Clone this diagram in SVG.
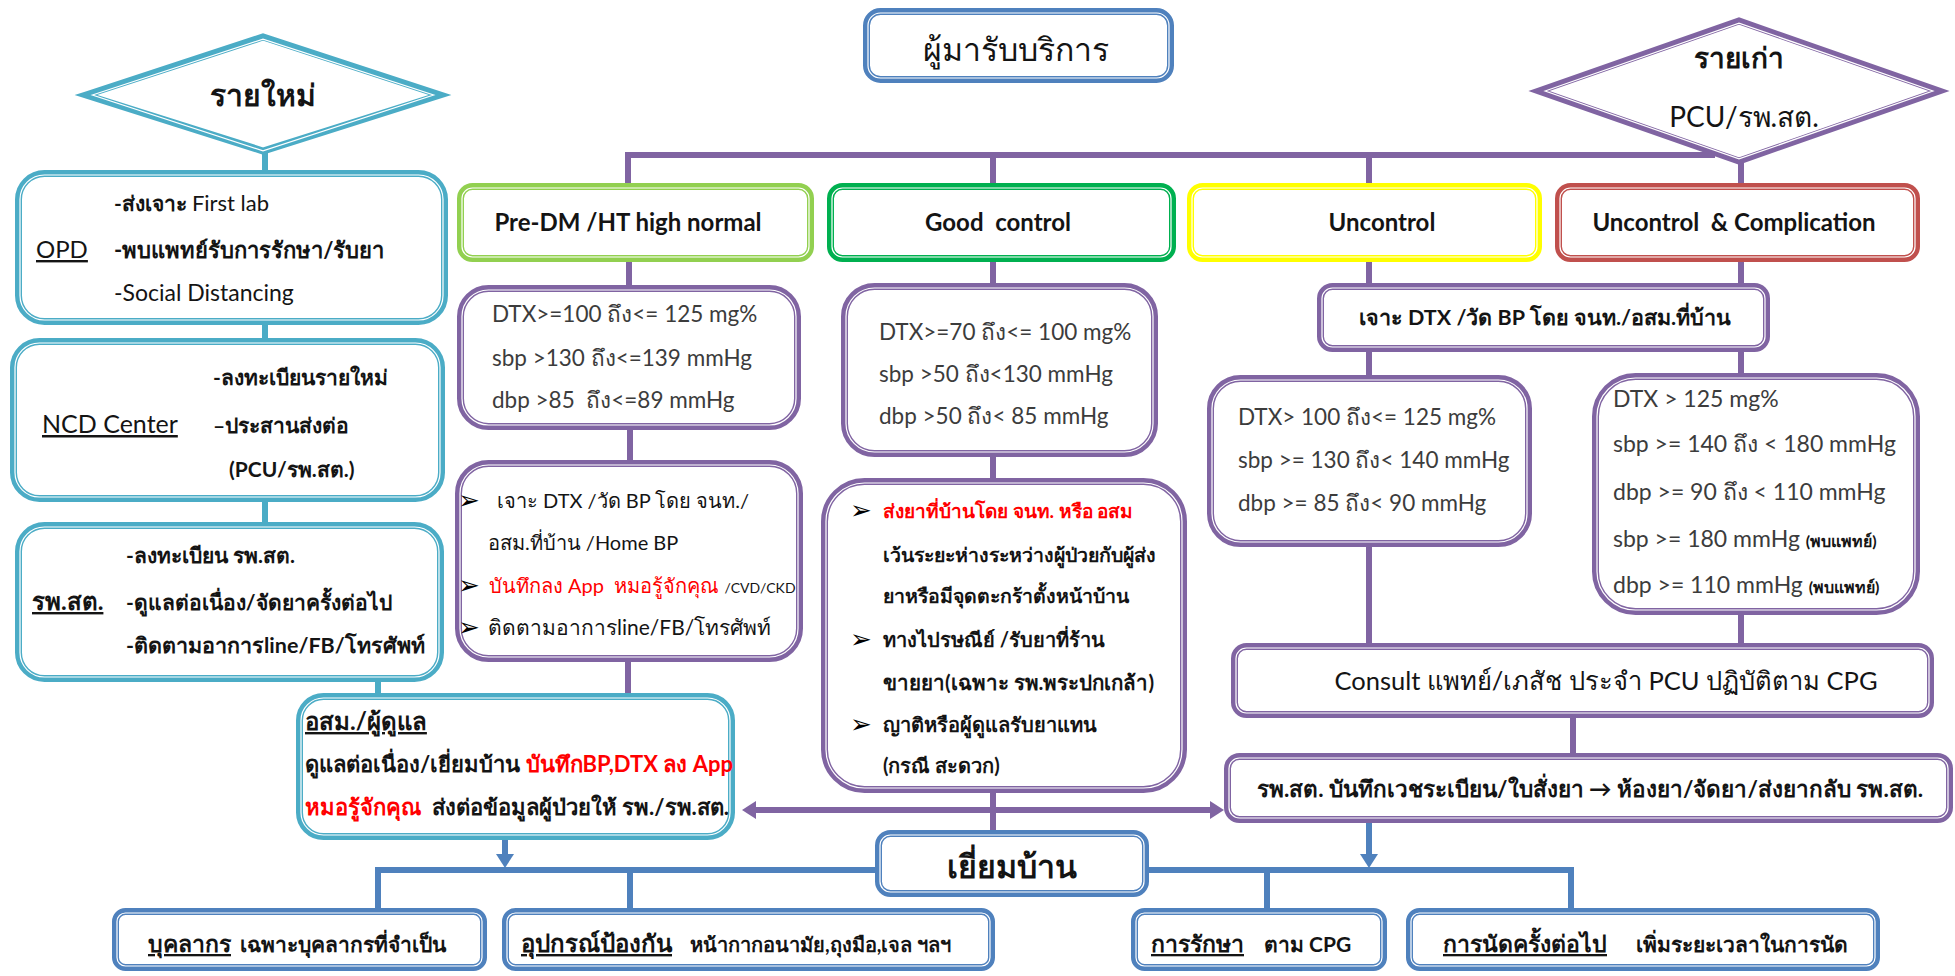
<svg xmlns="http://www.w3.org/2000/svg" width="1955" height="976" viewBox="0 0 1955 976">
<style>
.bx{fill:#fff;stroke-width:7}
.gap{fill:none;stroke:#fff;stroke-width:1.2}
.teal{stroke:#4bacc6}
.blue{stroke:#4f81bd}
.pur{stroke:#8064a2}
.lg{stroke:#92d050}
.gr{stroke:#00b050}
.yl{stroke:#ffff00}
.rd{stroke:#c0504d}
.ln{fill:none;stroke-width:6}
text{font-family:"Lato","Noto Sans","DejaVu Sans",sans-serif;fill:#141414}
.th{font-weight:bold;font-size:21px}
.tc{font-size:20px}
.hd{font-weight:bold;font-size:24px;text-anchor:middle}
.lab{font-size:22.5px;fill:#3c3c3c}
.big{font-weight:bold;font-size:32px;text-anchor:middle}
.red{fill:#ff0000}
.u{text-decoration:underline}
.c{text-anchor:middle}
.ul{font-weight:bold;font-size:23px;text-decoration:underline}
.rest{font-weight:bold;font-size:21px}
.bul{font-family:"DejaVu Sans",sans-serif;font-size:26px;fill:#000}
</style>
<defs>
<marker id="ahP" viewBox="0 0 10 10" refX="5.7" refY="5" markerWidth="14" markerHeight="18" markerUnits="userSpaceOnUse" preserveAspectRatio="none" orient="auto-start-reverse"><path d="M0,0 L10,5 L0,10 z" fill="#8064a2"/></marker>
<marker id="ahB" viewBox="0 0 10 10" refX="5.7" refY="5" markerWidth="14" markerHeight="18" markerUnits="userSpaceOnUse" preserveAspectRatio="none" orient="auto"><path d="M0,0 L10,5 L0,10 z" fill="#4f81bd"/></marker>
</defs>

<g id="connectors">
  <!-- new-patient chain -->
  <path class="ln teal" d="M265,150 V172 M265,323 V340 M265,500 V524 M378,680 V695"/>
  <!-- service bus -->
  <path class="ln pur" d="M625,155 H1715 M628,155 V185 M993,155 V185 M1369,155 V185 M1741,158 V185"/>
  <path class="ln pur" d="M629,260 V287 M630,428 V462 M628,660 V695"/>
  <path class="ln pur" d="M993,260 V285 M993,455 V480 M993,791 V832"/>
  <path class="ln pur" d="M1369,260 V285 M1369,350 V377 M1369,545 V645"/>
  <path class="ln pur" d="M1741,260 V285 M1741,350 V375 M1741,613 V645 M1573,716 V755"/>
  <path class="ln pur" d="M748,810 H1218" marker-start="url(#ahP)" marker-end="url(#ahP)"/>
  <!-- home-visit bus -->
  <path class="ln blue" d="M378,910 V870 H1571 V910 M630,870 V910 M1267,870 V910"/>
  <path class="ln blue" d="M505,838 V862" marker-end="url(#ahB)"/>
  <path class="ln blue" d="M1369,821 V862" marker-end="url(#ahB)"/>
</g>

<g id="node-top">
  <rect class="bx blue" x="866.5" y="11.5" width="304" height="68" rx="14"/>
  <rect class="gap" x="868" y="13" width="301" height="65" rx="12.5"/>
  <text class="big" x="1016" y="61" style="font-weight:normal;font-size:32px">ผู้มารับบริการ</text>
</g>

<g id="node-new">
  <polygon class="bx teal" points="86,95 263,37 440,95 263,151"/>
  <polygon class="gap" points="92.4,95 263,39.1 433.6,95 263,150.9"/>
  <text class="big" x="263" y="106" style="font-size:30px">รายใหม่</text>
</g>

<g id="node-old">
  <polygon class="bx pur" points="1539,91 1739,21 1939,91 1739,161"/>
  <polygon class="gap" points="1545.1,91 1739,23.1 1932.9,91 1739,158.9"/>
  <text class="big" x="1739" y="68" style="font-size:28px">รายเก่า</text>
  <text class="c" x="1744" y="127" style="font-size:28px">PCU/รพ.สต.</text>
</g>

<g id="node-opd">
  <rect class="bx teal" x="18.5" y="173.5" width="426" height="148" rx="26"/>
  <rect class="gap" x="20" y="175" width="423" height="145" rx="24.5"/>
  <text class="th" x="114" y="211">-ส่งเจาะ <tspan font-weight="normal" font-size="22">First lab</tspan></text>
  <text class="u" x="36" y="258" style="font-size:24px">OPD</text>
  <text class="th" x="114" y="258" style="font-size:22px">-พบแพทย์รับการรักษา/รับยา</text>
  <text x="114" y="301" style="font-size:23px">-Social Distancing</text>
</g>

<g id="node-ncd">
  <rect class="bx teal" x="13.5" y="341.5" width="428" height="157" rx="26"/>
  <rect class="gap" x="15" y="343" width="425" height="154" rx="24.5"/>
  <text class="th" x="213" y="385">-ลงทะเบียนรายใหม่</text>
  <text class="u" x="42" y="433" style="font-size:25px">NCD Center</text>
  <text class="th" x="213" y="433">–ประสานส่งต่อ</text>
  <text class="th" x="229" y="477">(PCU/รพ.สต.)</text>
</g>

<g id="node-pcu-left">
  <rect class="bx teal" x="18.5" y="525.5" width="422" height="153" rx="26"/>
  <rect class="gap" x="20" y="527" width="419" height="150" rx="24.5"/>
  <text class="th" x="126" y="563">-ลงทะเบียน รพ.สต.</text>
  <text class="th u" x="32" y="610" style="font-size:24px">รพ.สต.</text>
  <text class="th" x="126" y="610">-ดูแลต่อเนื่อง/จัดยาครั้งต่อไป</text>
  <text class="th" x="126" y="653" style="font-size:21.5px">-ติดตามอาการline/FB/โทรศัพท์</text>
</g>

<g id="node-vhv">
  <rect class="bx teal" x="299.5" y="696.5" width="432" height="140" rx="24"/>
  <rect class="gap" x="301" y="698" width="429" height="137" rx="22.5"/>
  <text class="th u" x="305" y="730" style="font-size:24px">อสม./ผู้ดูแล</text>
  <text class="th" x="305" y="772" style="font-size:22px">ดูแลต่อเนื่อง/เยี่ยมบ้าน <tspan class="red">บันทึกBP,DTX ลง App</tspan></text>
  <text class="th" x="305" y="815" style="font-size:22px" xml:space="preserve"><tspan class="red">หมอรู้จักคุณ</tspan>  ส่งต่อข้อมูลผู้ป่วยให้ รพ./รพ.สต.</text>
</g>

<g id="node-predm">
  <rect class="bx lg" x="460.5" y="186.5" width="350" height="72" rx="12"/>
  <rect class="gap" x="462" y="188" width="347" height="69" rx="10.5"/>
  <text class="hd" x="628" y="231">Pre-DM /HT high normal</text>
</g>

<g id="node-good">
  <rect class="bx gr" x="830.5" y="186.5" width="342" height="72" rx="12"/>
  <rect class="gap" x="832" y="188" width="339" height="69" rx="10.5"/>
  <text class="hd" x="998" y="231" xml:space="preserve">Good  control</text>
</g>

<g id="node-uncontrol">
  <rect class="bx yl" x="1190.5" y="186.5" width="348" height="72" rx="12"/>
  <rect class="gap" x="1192" y="188" width="345" height="69" rx="10.5"/>
  <text class="hd" x="1382" y="231">Uncontrol</text>
</g>

<g id="node-complication">
  <rect class="bx rd" x="1558.5" y="186.5" width="358" height="72" rx="12"/>
  <rect class="gap" x="1560" y="188" width="355" height="69" rx="10.5"/>
  <text class="hd" x="1734" y="231" xml:space="preserve">Uncontrol  &amp; Complication</text>
</g>

<g id="node-predm-range">
  <rect class="bx pur" x="460.5" y="288.5" width="337" height="138" rx="28"/>
  <rect class="gap" x="462" y="290" width="334" height="135" rx="26.5"/>
  <text class="lab" x="492" y="322">DTX&gt;=100 ถึง&lt;= 125 mg%</text>
  <text class="lab" x="492" y="366">sbp &gt;130 ถึง&lt;=139 mmHg</text>
  <text class="lab" x="492" y="408" xml:space="preserve">dbp &gt;85  ถึง&lt;=89 mmHg</text>
</g>

<g id="node-predm-care">
  <rect class="bx pur" x="458.5" y="463.5" width="341" height="195" rx="30"/>
  <rect class="gap" x="460" y="465" width="338" height="192" rx="28.5"/>
  <text class="bul" x="458" y="509">➢</text>
  <text class="tc" x="497" y="508">เจาะ DTX /วัด BP โดย จนท./</text>
  <text class="tc" x="488" y="550">อสม.ที่บ้าน /Home BP</text>
  <text class="bul" x="458" y="594">➢</text>
  <text class="tc" x="489" y="593" xml:space="preserve"><tspan class="red">บันทึกลง App  หมอรู้จักคุณ</tspan> <tspan font-size="14">/CVD/CKD</tspan></text>
  <text class="bul" x="458" y="636">➢</text>
  <text class="tc" x="488" y="635" style="font-size:21px">ติดตามอาการline/FB/โทรศัพท์</text>
</g>

<g id="node-good-range">
  <rect class="bx pur" x="844.5" y="286.5" width="310" height="167" rx="30"/>
  <rect class="gap" x="846" y="288" width="307" height="164" rx="28.5"/>
  <text class="lab" x="879" y="340">DTX&gt;=70 ถึง&lt;= 100 mg%</text>
  <text class="lab" x="879" y="382">sbp &gt;50 ถึง&lt;130 mmHg</text>
  <text class="lab" x="879" y="424">dbp &gt;50 ถึง&lt; 85 mmHg</text>
</g>

<g id="node-good-care">
  <rect class="bx pur" x="824.5" y="481.5" width="359" height="308" rx="40"/>
  <rect class="gap" x="826" y="483" width="356" height="305" rx="38.5"/>
  <text class="bul" x="850" y="519">➢</text>
  <text class="th red" x="883" y="518" style="font-size:19px">ส่งยาที่บ้านโดย จนท. หรือ อสม</text>
  <text class="th" x="883" y="562" style="font-size:19.5px">เว้นระยะห่างระหว่างผู้ป่วยกับผู้ส่ง</text>
  <text class="th" x="883" y="603" style="font-size:19.5px">ยาหรือมีจุดตะกร้าตั้งหน้าบ้าน</text>
  <text class="bul" x="850" y="648">➢</text>
  <text class="th" x="883" y="647" style="font-size:20px">ทางไปรษณีย์ /รับยาที่ร้าน</text>
  <text class="th" x="883" y="690" style="font-size:20.5px">ขายยา(เฉพาะ รพ.พระปกเกล้า)</text>
  <text class="bul" x="850" y="733">➢</text>
  <text class="th" x="883" y="732" style="font-size:20px">ญาติหรือผู้ดูแลรับยาแทน</text>
  <text class="th" x="883" y="773" style="font-size:20px">(กรณี สะดวก)</text>
</g>

<g id="node-check">
  <rect class="bx pur" x="1320.5" y="286.5" width="446" height="62" rx="12"/>
  <rect class="gap" x="1322" y="288" width="443" height="59" rx="10.5"/>
  <text class="th c" x="1545" y="325" style="font-size:21.5px">เจาะ DTX /วัด BP โดย จนท./อสม.ที่บ้าน</text>
</g>

<g id="node-uncontrol-range">
  <rect class="bx pur" x="1210.5" y="378.5" width="318" height="165" rx="30"/>
  <rect class="gap" x="1212" y="380" width="315" height="162" rx="28.5"/>
  <text class="lab" x="1238" y="425">DTX&gt; 100 ถึง&lt;= 125 mg%</text>
  <text class="lab" x="1238" y="468">sbp &gt;= 130 ถึง&lt; 140 mmHg</text>
  <text class="lab" x="1238" y="511">dbp &gt;= 85 ถึง&lt; 90 mmHg</text>
</g>

<g id="node-complication-range">
  <rect class="bx pur" x="1595.5" y="376.5" width="321" height="235" rx="40"/>
  <rect class="gap" x="1597" y="378" width="318" height="232" rx="38.5"/>
  <text class="lab" x="1613" y="407" style="font-size:23px">DTX &gt; 125 mg%</text>
  <text class="lab" x="1613" y="452" style="font-size:23px">sbp &gt;= 140 ถึง &lt; 180 mmHg</text>
  <text class="lab" x="1613" y="500" style="font-size:23px">dbp &gt;= 90 ถึง &lt; 110 mmHg</text>
  <text class="lab" x="1613" y="547" style="font-size:23px">sbp &gt;= 180 mmHg <tspan font-weight="bold" font-size="16" fill="#141414">(พบแพทย์)</tspan></text>
  <text class="lab" x="1613" y="593" style="font-size:23px">dbp &gt;= 110 mmHg <tspan font-weight="bold" font-size="16" fill="#141414">(พบแพทย์)</tspan></text>
</g>

<g id="node-consult">
  <rect class="bx pur" x="1234.5" y="646.5" width="696" height="68" rx="12"/>
  <rect class="gap" x="1236" y="648" width="693" height="65" rx="10.5"/>
  <text class="c" x="1606" y="690" style="font-size:25.5px">Consult แพทย์/เภสัช ประจำ PCU ปฏิบัติตาม CPG</text>
</g>

<g id="node-pcu-right">
  <rect class="bx pur" x="1227.5" y="756.5" width="722" height="63" rx="12"/>
  <rect class="gap" x="1229" y="758" width="719" height="60" rx="10.5"/>
  <text class="th c" x="1590" y="797" style="font-size:22.5px">รพ.สต. บันทึกเวชระเบียน/ใบสั่งยา → ห้องยา/จัดยา/ส่งยากลับ รพ.สต.</text>
</g>

<g id="node-visit">
  <rect class="bx blue" x="878.5" y="833.5" width="267" height="60" rx="12"/>
  <rect class="gap" x="880" y="835" width="264" height="57" rx="10.5"/>
  <text class="big" x="1012" y="878">เยี่ยมบ้าน</text>
</g>

<g id="node-staff">
  <rect class="bx blue" x="115.5" y="911.5" width="368" height="56" rx="10"/>
  <rect class="gap" x="117" y="913" width="365" height="53" rx="8.5"/>
  <text class="ul" x="148" y="952">บุคลากร</text>
  <text class="rest" x="240" y="952">เฉพาะบุคลากรที่จำเป็น</text>
</g>

<g id="node-ppe">
  <rect class="bx blue" x="505.5" y="911.5" width="486" height="56" rx="10"/>
  <rect class="gap" x="507" y="913" width="483" height="53" rx="8.5"/>
  <text class="ul" x="521" y="952" style="font-size:24px">อุปกรณ์ป้องกัน</text>
  <text class="rest" x="690" y="952" style="font-size:20px">หน้ากากอนามัย,ถุงมือ,เจล ฯลฯ</text>
</g>

<g id="node-treat">
  <rect class="bx blue" x="1134.5" y="911.5" width="249" height="56" rx="10"/>
  <rect class="gap" x="1136" y="913" width="246" height="53" rx="8.5"/>
  <text class="ul" x="1151" y="952">การรักษา</text>
  <text class="rest" x="1264" y="952">ตาม CPG</text>
</g>

<g id="node-next">
  <rect class="bx blue" x="1409.5" y="911.5" width="467" height="56" rx="10"/>
  <rect class="gap" x="1411" y="913" width="464" height="53" rx="8.5"/>
  <text class="ul" x="1443" y="952">การนัดครั้งต่อไป</text>
  <text class="rest" x="1636" y="952">เพิ่มระยะเวลาในการนัด</text>
</g>
</svg>
